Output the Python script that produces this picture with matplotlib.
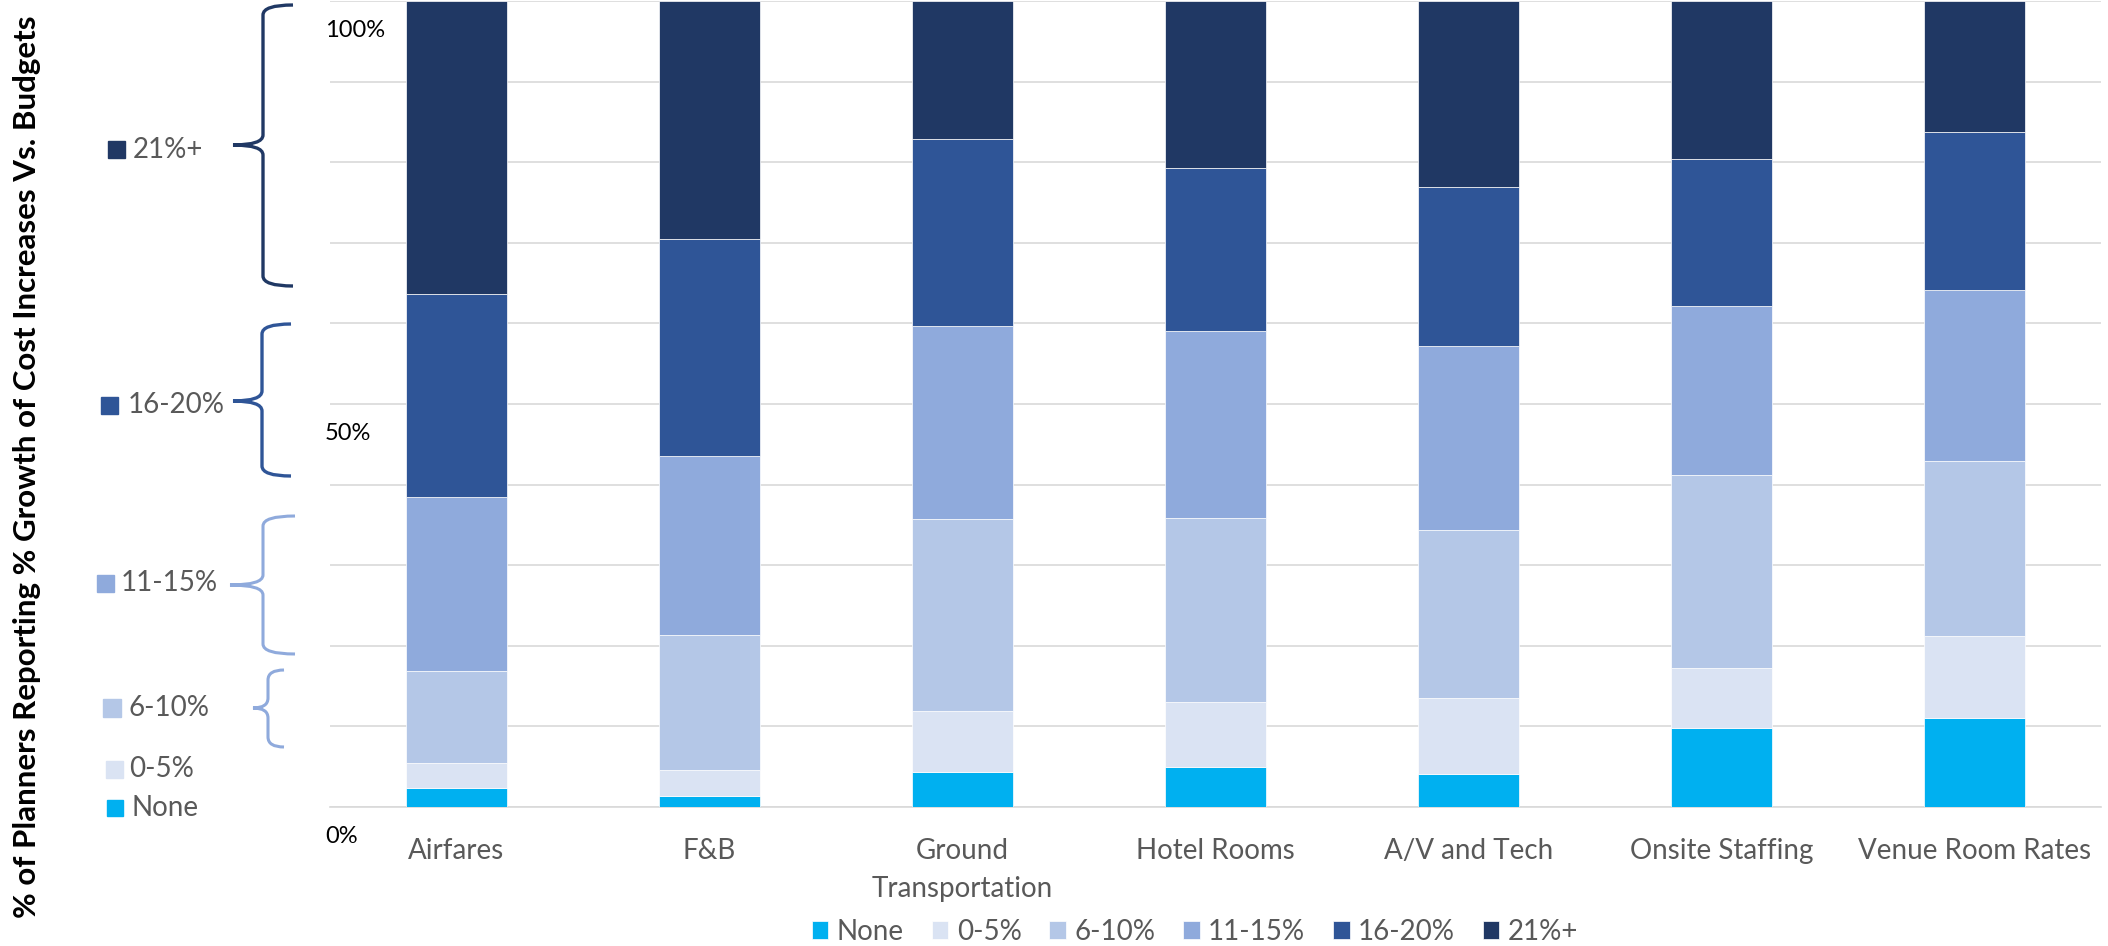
import matplotlib
matplotlib.use('Agg')
import matplotlib.pyplot as plt
from matplotlib.patches import Rectangle, PathPatch
from matplotlib.path import Path
import matplotlib.transforms as mtransforms
import numpy as np

plt.rcParams['font.family'] = ['Lato', 'DejaVu Sans']

####################################################################################################

categories = ['Airfares', 'F&B', 'Ground\nTransportation', 'Hotel Rooms',
              'A/V and Tech', 'Onsite Staffing', 'Venue Room Rates']
series_names = ['None', '0-5%', '6-10%', '11-15%', '16-20%', '21%+']
colors = ['#00B0F0', '#DAE3F3', '#B4C7E7', '#8FAADC', '#2F5597', '#203864']

none_vals = [2.3, 1.4, 4.3, 5.0, 4.1, 9.8, 11.1]
vals_0_5 = [3.2, 3.2, 7.6, 8.0, 9.4, 7.4, 10.1]
vals_6_10 = [11.4, 16.7, 23.8, 22.9, 20.9, 24.0, 21.7]
vals_11_15 = [21.6, 22.3, 24.0, 23.1, 22.8, 20.9, 21.2]
vals_16_20 = [25.1, 26.9, 23.2, 20.3, 19.7, 18.3, 19.6]
vals_21_plus = [36.4, 29.5, 17.1, 20.7, 23.1, 19.6, 16.3]

y_labels = [100, 50, 0]

####################################################################################################

W, H = 2108, 946
fig = plt.figure(figsize=(W / 100, H / 100), dpi=100)

def px(x, y):
    # pixel (from top-left) -> figure fraction
    return x / W, 1 - y / H

ax = fig.add_axes([330 / W, 139 / H, 1771 / W, 806 / H])

x = np.arange(len(categories))
bottom = np.zeros(len(categories))
all_series = [none_vals, vals_0_5, vals_6_10, vals_11_15, vals_16_20, vals_21_plus]
for name, vals, c in zip(series_names, all_series, colors):
    ax.bar(x, vals, 0.4, bottom=bottom, color=c, label=name,
           edgecolor='white', linewidth=0.5, zorder=3)
    bottom += np.array(vals)

ax.set_xlim(-0.5, len(categories) - 0.5)
ax.set_ylim(0, 100)
ax.set_yticks(np.arange(0, 101, 10))
ax.tick_params(axis='y', length=0, labelleft=False)
ax.grid(axis='y', color='#D9D9D9', linewidth=1.2, zorder=0)
ax.set_xticks(x)
ax.set_xticklabels(categories, fontsize=20, color='#595959', linespacing=1.6)
ax.tick_params(axis='x', length=0, pad=22)
for s in ['top', 'right', 'left']:
    ax.spines[s].set_visible(False)
ax.spines['bottom'].set_color('#D9D9D9')
ax.spines['bottom'].set_linewidth(1.2)

# y labels sit just under their gridlines
trans = mtransforms.blended_transform_factory(fig.transFigure, ax.transData)
for v in y_labels:
    ax.text(325 / W, v - 3.6, f'{v}%', transform=trans, fontsize=17,
            color='black', ha='left', va='center')

fig.text(27 / W, 1 - 467 / H,
         '% of Planners Reporting % Growth of Cost Increases Vs. Budgets',
         rotation=90, ha='center', va='center', fontsize=22.5,
         fontweight='bold', color='black')

ax.legend(loc='center', bbox_to_anchor=(1195 / W, 14 / H),
          bbox_transform=fig.transFigure, ncol=6, frameon=False,
          fontsize=20, handlelength=0.6, handleheight=0.6,
          handletextpad=0.3, columnspacing=1.0, labelcolor='#595959')

####################################################################################################
# left side key with braces

side_labels = [  # name, square x0, x1, text x, center y
    ('21%+', 108, 125, 133, 150),
    ('16-20%', 101, 118, 128, 405),
    ('11-15%', 97, 114, 121, 583),
    ('6-10%', 103, 121, 129, 708),
    ('0-5%', 106, 123, 129, 769),
    ('None', 107, 123, 131, 808),
]
for name, x0, x1, tx, cy in side_labels:
    c = colors[series_names.index(name)]
    size = x1 - x0
    fx0, fy0 = px(x0, cy + size / 2)
    fig.patches.append(Rectangle((fx0, fy0), size / W, size / H,
                                 transform=fig.transFigure, color=c))
    fx, fy = px(tx, cy)
    fig.text(fx, fy, name, fontsize=20, color='#595959', ha='left', va='center')

braces = [  # color, tip x, vertical x, end x, top y, mid y, bottom y, lw
    ('#203864', 233, 263, 293, 5, 145, 286, 2.4),
    ('#2F5597', 233, 262, 291, 324, 401, 476, 2.4),
    ('#8FAADC', 230, 263, 295, 516, 585, 654, 2.2),
    ('#8FAADC', 253, 268, 284, 670, 708, 747, 2.2),
]
for c, xt, xv, xe, yt, ym, yb, lw in braces:
    r = 10
    pts = [(xe, yt), (xv, yt), (xv, yt + r),
           (xv, ym - r), (xv, ym), (xt, ym),
           (xv, ym), (xv, ym + r),
           (xv, yb - r), (xv, yb), (xe, yb)]
    codes = [Path.MOVETO, Path.CURVE3, Path.CURVE3,
             Path.LINETO, Path.CURVE3, Path.CURVE3,
             Path.CURVE3, Path.CURVE3,
             Path.LINETO, Path.CURVE3, Path.CURVE3]
    path = Path([px(a, b) for a, b in pts], codes)
    fig.patches.append(PathPatch(path, transform=fig.transFigure,
                                 facecolor='none', edgecolor=c, linewidth=lw))

fig.savefig('out.png', dpi=100)
